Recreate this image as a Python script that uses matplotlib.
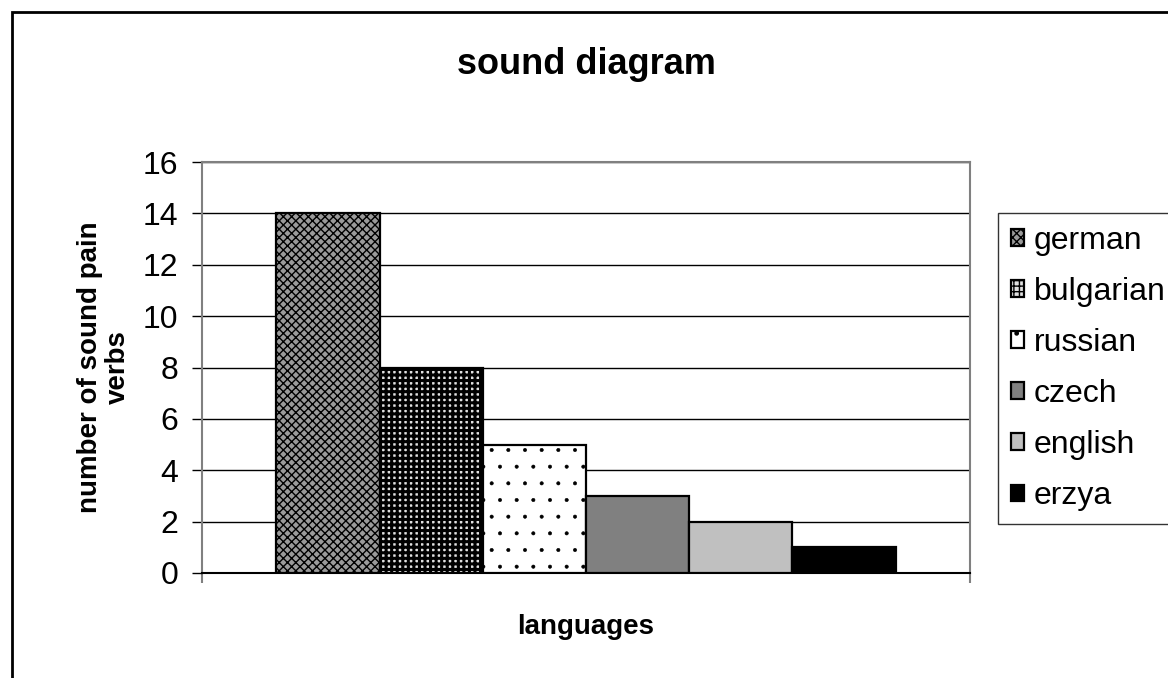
import matplotlib.pyplot as plt
from matplotlib.patches import Rectangle

plt.rcParams['font.family'] = ['Liberation Sans', 'DejaVu Sans']

languages = ["german", "bulgarian", "russian", "czech", "english", "erzya"]
verbs = [14, 8, 5, 3, 2, 1]
faces = ['#9a9a9a', '#e0e0e0', 'white', '#808080', '#c0c0c0', 'black']
hatches = ['xxxx', '+++', '.', None, None, None]
hatch_lw = [1.0, 2.2, 0.4, 1.0, 1.0, 1.0]

fig = plt.figure(figsize=(11.68, 6.78), dpi=100)
ax = fig.add_axes([202/1168, 1-573/678, 768/1168, 411/678])

for i in range(len(languages)):
    plt.rcParams['hatch.linewidth'] = hatch_lw[i]
    ax.bar(i, verbs[i], width=1.0, color=faces[i], edgecolor='black',
           linewidth=1.6, hatch=hatches[i], label=languages[i], zorder=3)

ax.set_xlim(-1.22, 6.22)
ax.set_ylim(0, 16)
ax.set_yticks(range(0, 17, 2))
ax.tick_params(axis='y', labelsize=23, length=7, width=1, pad=10, colors='black')
ax.set_xticks([-1.22, 6.22])
ax.set_xticklabels(['', ''])
ax.tick_params(axis='x', length=7, width=1.5, color='#808080')

ax.grid(axis='y', color='black', linewidth=1, zorder=0)
for s in ['top', 'right', 'left']:
    ax.spines[s].set_color('#808080')
    ax.spines[s].set_linewidth(1.5)
ax.spines['bottom'].set_color('black')
ax.spines['bottom'].set_linewidth(1.5)

ax.set_ylabel("number of sound pain\nverbs", fontsize=20, fontweight='bold',
              linespacing=1.1)
ax.yaxis.set_label_coords(-0.092, 0.5)
ax.set_xlabel("languages", fontsize=20, fontweight='bold', va='center')
ax.xaxis.set_label_coords(0.5, -0.131)

fig.text(586/1168, 1-65/678, "sound diagram", fontsize=26, fontweight='bold',
         ha='center', va='center')

leg = fig.legend(loc='upper left', bbox_to_anchor=(998/1168, 1-213/678),
                 fontsize=23, frameon=True, fancybox=False, edgecolor='black',
                 handlelength=0.42, handleheight=0.42, handletextpad=0.3,
                 labelspacing=0.66, borderpad=0.4, borderaxespad=0)
leg.get_frame().set_linewidth(1.0)

fig.patches.append(Rectangle((12/1168, -0.05), 1.1, 1-12/678+0.05,
                             transform=fig.transFigure, fill=False,
                             edgecolor='black', linewidth=2))

fig.savefig("out.png", dpi=100)
